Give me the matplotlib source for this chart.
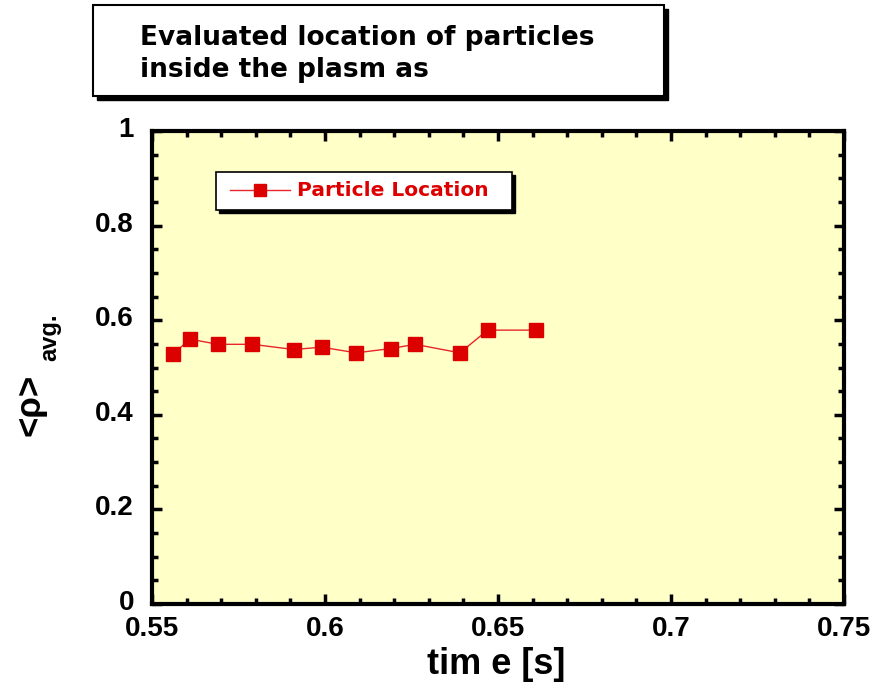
import matplotlib
matplotlib.use('Agg')
from matplotlib import pyplot as plt
from matplotlib.patches import Rectangle
from matplotlib.ticker import MultipleLocator, FixedLocator
from matplotlib.transforms import ScaledTranslation

plt.rcParams['font.family'] = ['Liberation Sans', 'DejaVu Sans']

# particle location data
time_s = [0.556, 0.561, 0.569, 0.579, 0.591, 0.599, 0.609, 0.619, 0.626, 0.639, 0.647, 0.661]
rho_avg = [0.528, 0.560, 0.549, 0.549, 0.538, 0.543, 0.531, 0.540, 0.549, 0.531, 0.579, 0.579]

x_ticks = [0.55, 0.6, 0.65, 0.7, 0.75]
x_labels = ['0.55', '0.6', '0.65', '0.7', '0.75']
y_ticks = [0, 0.2, 0.4, 0.6, 0.8, 1]
y_labels = ['0', '0.2', '0.4', '0.6', '0.8', '1']

W, H = 876, 688
fig = plt.figure(figsize=(W / 100, H / 100), dpi=100)
ax = fig.add_axes([152 / W, 1 - 604 / H, (844 - 152) / W, (604 - 131) / H])
ax.set_facecolor('#ffffc8')

ax.plot(time_s, rho_avg, color='#e8242c', lw=1, marker='s', ms=9.5,
        mfc='#dd0000', mec='#dd0000', zorder=3)

ax.set_xlim(0.55, 0.75)
ax.set_ylim(0, 1)
ax.xaxis.set_major_locator(FixedLocator(x_ticks))
ax.yaxis.set_major_locator(FixedLocator(y_ticks))
ax.set_xticklabels(x_labels)
ax.set_yticklabels(y_labels)
ax.xaxis.set_minor_locator(MultipleLocator(0.01))
ax.yaxis.set_minor_locator(MultipleLocator(0.05))
ax.tick_params(which='both', direction='in', top=True, right=True, width=2.5)
ax.tick_params(which='major', length=7)
ax.tick_params(which='minor', length=4)
ax.tick_params(axis='x', which='major', pad=9, labelsize=20)
ax.tick_params(axis='y', which='major', pad=13, labelsize=20)
for lab in ax.get_xticklabels() + ax.get_yticklabels():
    lab.set_fontweight('bold')
# y labels sit a little above their ticks in the original
shift_up = ScaledTranslation(0, 4 / 100, fig.dpi_scale_trans)
for lab in ax.get_yticklabels():
    lab.set_transform(lab.get_transform() + shift_up)
for sp in ax.spines.values():
    sp.set_linewidth(3)

fig.text(496 / W, 1 - 665 / H, 'tim e [s]', fontsize=26, fontweight='bold',
         ha='center', va='center')
fig.text(30 / W, 1 - 405 / H, '<\u03c1>', fontsize=25, fontweight='bold',
         rotation=90, ha='center', va='center')
fig.text(50 / W, 1 - 337 / H, 'avg.', fontsize=17, fontweight='bold',
         rotation=90, ha='center', va='center')

# title box with shadow
fig.add_artist(Rectangle((97 / W, 1 - 100 / H), (668 - 97) / W, (100 - 9) / H,
                         transform=fig.transFigure, facecolor='black', edgecolor='black'))
fig.add_artist(Rectangle((93 / W, 1 - 96 / H), (664 - 93) / W, (96 - 5) / H,
                         transform=fig.transFigure, facecolor='white',
                         edgecolor='black', lw=1.5))
fig.text(140 / W, 1 - 38 / H, 'Evaluated location of particles', fontsize=19,
         fontweight='bold', family='DejaVu Sans', ha='left', va='center')
fig.text(140 / W, 1 - 70 / H, 'inside the plasm as', fontsize=19,
         fontweight='bold', family='DejaVu Sans', ha='left', va='center')

# legend box with shadow
fig.add_artist(Rectangle((219 / W, 1 - 213 / H), (515 - 219) / W, (213 - 175) / H,
                         transform=fig.transFigure, facecolor='black', edgecolor='black'))
fig.add_artist(Rectangle((216 / W, 1 - 210 / H), (512 - 216) / W, (210 - 172) / H,
                         transform=fig.transFigure, facecolor='white',
                         edgecolor='black', lw=1.2))
fig.add_artist(plt.Line2D([230 / W, 290 / W], [1 - 190 / H, 1 - 190 / H],
                          transform=fig.transFigure, color='#e8242c', lw=1))
fig.add_artist(plt.Line2D([260 / W], [1 - 190 / H], transform=fig.transFigure,
                          marker='s', ms=8, color='#dd0000', lw=0))
fig.text(297 / W, 1 - 190 / H, 'Particle Location', fontsize=14.5, fontweight='bold',
         family='DejaVu Sans', color='#dd0000', ha='left', va='center')

fig.savefig('out.png', dpi=100)
